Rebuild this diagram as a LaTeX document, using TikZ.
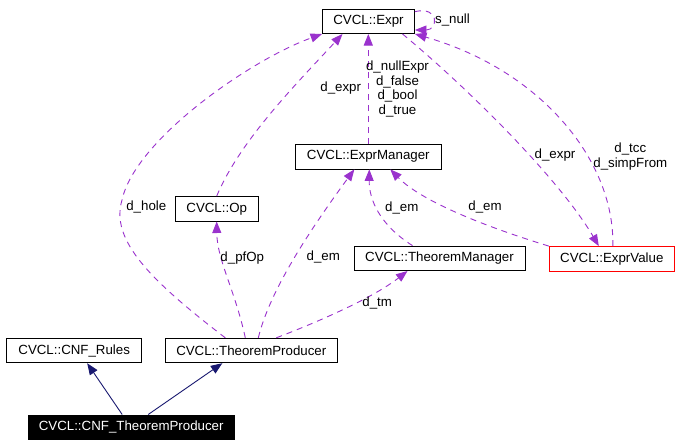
\documentclass[tikz,border=0pt]{standalone}
\usepackage{fontspec}
\setmainfont{Liberation Sans}
\usetikzlibrary{arrows.meta}
\definecolor{dxpurple}{HTML}{9A32CD}
\definecolor{dxnavy}{HTML}{191970}
\definecolor{dxred}{HTML}{FF0000}

\begin{document}
\begin{tikzpicture}[x=1pt, y=-1pt,
    box/.style={rectangle, draw=black, line width=0.9pt, fill=white, minimum width=#1, minimum height=24.5pt, inner sep=0pt, font=\fontsize{13.3}{15}\selectfont},
    lbl/.style={inner sep=0pt, text height=9.6pt, text depth=2.8pt, font=\fontsize{13.3}{15}\selectfont},
    multilbl/.style={inner sep=0pt, align=center, font=\fontsize{13.3}{14.8}\selectfont},
    usage/.style={draw=dxpurple, line width=0.9pt, dash pattern=on 6pt off 5pt, -{Triangle[length=11.5pt, width=9pt]}},
    inherit/.style={draw=dxnavy, line width=0.9pt, -{Triangle[length=11.5pt, width=9pt]}}
]
\useasboundingbox (0,0) rectangle (693,447);

% Classes
\node[box=92pt] (expr) at (368.5,21.3) {CVCL::Expr};
\node[box=146.7pt] (em) at (368.3,156.7) {CVCL::ExprManager};
\node[box=83.3pt] (op) at (216.7,208.8) {CVCL::Op};
\node[box=171pt] (tm) at (439.5,258.3) {CVCL::TheoremManager};
\node[box=125pt, draw=dxred] (ev) at (611.8,258.8) {CVCL::ExprValue};
\node[box=135pt] (rules) at (74.2,350.5) {CVCL::CNF\_Rules};
\node[box=172.7pt] (tp) at (251.3,350.5) {CVCL::TheoremProducer};
\node[box=205.7pt, fill=black, text=white] (cnftp) at (131.2,427.2) {CVCL::CNF\_TheoremProducer};

% Inheritance
\draw[inherit] ([xshift=-9pt]cnftp.north) -- ([xshift=13pt]rules.south);
\draw[inherit] ([xshift=17pt]cnftp.north) -- ([xshift=-29pt]tp.south);

% Usage relations
\draw[usage] ([xshift=-26pt]tp.north) .. controls (150,280) and (110,240) .. (122,200)
    .. controls (135,140) and (250,60) .. (expr.south west);
\draw[usage] ([xshift=-6pt]tp.north) .. controls (235,290) and (217,260) .. (op.south);
\draw[usage] ([xshift=7pt]tp.north) .. controls (270,290) and (310,230) .. ([xshift=-14pt]em.south);
\draw[usage] ([xshift=25pt]tp.north) .. controls (310,325) and (370,300) .. ([xshift=-32pt]tm.south);
\draw[usage] (op.north) .. controls (240,140) and (300,80) .. ([xshift=-26pt]expr.south);
\draw[usage] (em.north) -- (em.north |- expr.south);
\draw[usage] ([xshift=-27pt]tm.north) .. controls (380,225) and (369,200) .. ([xshift=1pt]em.south);
\draw[usage] (ev.north west) .. controls (480,225) and (420,200) .. ([xshift=22pt]em.south);
\draw[usage] ([xshift=34pt]expr.south) .. controls (470,90) and (560,180) .. ([xshift=-13pt]ev.north);
\draw[usage] ([xshift=1pt]ev.north) .. controls (615,160) and (540,70) .. (expr.south east);
\draw[usage] ([yshift=-3pt]expr.north east) .. controls (440,6) and (438,30) .. ([yshift=4pt]expr.south east);

% Member names
\node[lbl] (snull) at (452.5,20.5) {s\_null};
\node[multilbl] (nullexpr) at (397.5,89) {d\_nullExpr\\d\_false\\d\_bool\\d\_true};
\node[lbl] (opexpr) at (340.7,88.3) {d\_expr};
\node[lbl] (evexpr) at (555,155) {d\_expr};
\node[multilbl] (tcc) at (630.3,156.5) {d\_tcc\\d\_simpFrom};
\node[lbl] (evem) at (485,207.3) {d\_em};
\node[lbl] (tmem) at (401.8,208.3) {d\_em};
\node[lbl] (tpem) at (323.3,257.3) {d\_em};
\node[lbl] (pfop) at (242.3,257.7) {d\_pfOp};
\node[lbl] (hole) at (146.3,207.3) {d\_hole};
\node[lbl] (tptm) at (377.2,303.3) {d\_tm};

\end{tikzpicture}
\end{document}
